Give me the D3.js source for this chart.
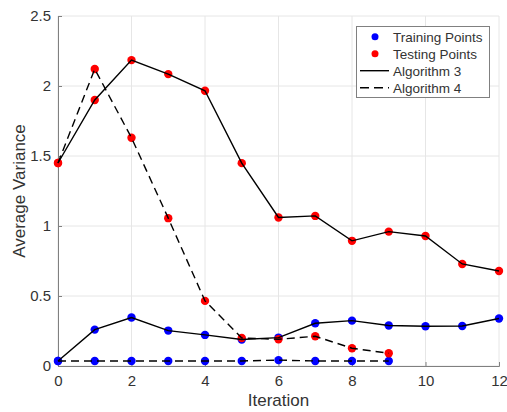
<!DOCTYPE html>
<meta charset="utf-8">
<style>
  body { margin: 0; background: #fff; }
  text { font-family: "Liberation Sans", Arial, sans-serif; fill: #333; }
</style>
<body>
<script src="https://d3js.org/d3.v7.min.js"></script>
<script>
  // values
  var iter3 = [0, 1, 2, 3, 4, 5, 6, 7, 8, 9, 10, 11, 12];
  var iter4 = [0, 1, 2, 3, 4, 5, 6, 7, 8, 9];
  var alg3Test = [1.45, 1.90, 2.185, 2.085, 1.966, 1.449, 1.061, 1.072, 0.894, 0.960, 0.929, 0.729, 0.679];
  var alg3Train = [0.036, 0.26, 0.346, 0.253, 0.222, 0.189, 0.203, 0.305, 0.324, 0.289, 0.284, 0.286, 0.339];
  var alg4Test = [1.45, 2.121, 1.630, 1.056, 0.465, 0.2, 0.191, 0.212, 0.127, 0.091];
  var alg4Train = [0.036, 0.036, 0.036, 0.036, 0.036, 0.036, 0.042, 0.036, 0.036, 0.036];
  var xTicks = [0, 2, 4, 6, 8, 10, 12];
  var yTicks = [0, 0.5, 1, 1.5, 2, 2.5];
  var legendItems = ["Training Points", "Testing Points", "Algorithm 3", "Algorithm 4"];

  var width = 507, height = 412;
  var margin = {left: 58, right: 8, top: 16, bottom: 46};

  var svg = d3.select("body").append("svg")
      .attr("width", width)
      .attr("height", height);

  var x = d3.scaleLinear().domain([0, 12]).range([margin.left, width - margin.right]);
  var y = d3.scaleLinear().domain([0, 2.5]).range([height - margin.bottom, margin.top]);

  // grid
  var grid = svg.append("g");
  grid.selectAll(".gx").data(xTicks).enter().append("line")
      .attr("x1", d => x(d)).attr("x2", d => x(d))
      .attr("y1", y(0)).attr("y2", y(2.5))
      .attr("stroke", "#e6e6e6").attr("stroke-width", 1);
  grid.selectAll(".gy").data(yTicks).enter().append("line")
      .attr("x1", x(0)).attr("x2", x(12))
      .attr("y1", d => y(d)).attr("y2", d => y(d))
      .attr("stroke", "#e6e6e6").attr("stroke-width", 1);

  // axes
  var xAxis = svg.append("g")
      .attr("transform", "translate(0," + y(0) + ")")
      .call(d3.axisBottom(x).tickValues(xTicks).tickSize(-4).tickPadding(9).tickFormat(d3.format("d")));
  var yAxis = svg.append("g")
      .attr("transform", "translate(" + x(0) + ",0)")
      .call(d3.axisLeft(y).tickValues(yTicks).tickSize(-4).tickPadding(7).tickFormat(d => d));
  [xAxis, yAxis].forEach(function(a) {
    a.select(".domain").attr("stroke", "#808080").attr("stroke-width", 1);
    a.selectAll(".tick line").attr("stroke", "#808080").attr("stroke-width", 1);
    a.selectAll(".tick text").attr("font-size", 15).attr("fill", "#333")
      .attr("font-family", "Liberation Sans, Arial, sans-serif");
  });

  svg.append("text")
      .attr("x", x(6)).attr("y", 406)
      .attr("text-anchor", "middle").attr("font-size", 17)
      .text("Iteration");
  svg.append("text")
      .attr("transform", "translate(25," + y(1.25) + ") rotate(-90)")
      .attr("text-anchor", "middle").attr("font-size", 17)
      .text("Average Variance");

  function pts(xs, ys) { return xs.map((d, i) => [d, ys[i]]); }

  var series = [
    {data: pts(iter3, alg3Train), color: "blue", dash: null},
    {data: pts(iter3, alg3Test), color: "red", dash: null},
    {data: pts(iter4, alg4Train), color: "blue", dash: "8,5"},
    {data: pts(iter4, alg4Test), color: "red", dash: "8,5"}
  ];

  // dots first, lines over them
  series.forEach(function(s) {
    svg.append("g").selectAll("circle").data(s.data).enter().append("circle")
        .attr("cx", d => x(d[0])).attr("cy", d => y(d[1]))
        .attr("r", 4.2).attr("fill", s.color);
  });
  var line = d3.line().x(d => x(d[0])).y(d => y(d[1]));
  series.forEach(function(s) {
    svg.append("path").datum(s.data)
        .attr("d", line)
        .attr("fill", "none").attr("stroke", "#000").attr("stroke-width", 1.4)
        .attr("stroke-dasharray", s.dash);
  });

  // legend
  var lg = svg.append("g");
  lg.append("rect").attr("x", 356.5).attr("y", 26.5).attr("width", 133).attr("height", 71)
      .attr("fill", "#fff").attr("stroke", "#808080").attr("stroke-width", 1);
  legendItems.forEach(function(name, i) {
    var yy = 36.7 + i * 17;
    if (i < 2) {
      lg.append("circle").attr("cx", 375).attr("cy", yy).attr("r", 3.5)
          .attr("fill", i === 0 ? "blue" : "red");
    } else {
      lg.append("line").attr("x1", 360).attr("x2", 389).attr("y1", yy).attr("y2", yy)
          .attr("stroke", "#000").attr("stroke-width", 1.4)
          .attr("stroke-dasharray", i === 3 ? "9,5" : null);
    }
    lg.append("text").attr("x", 393).attr("y", yy + 5).attr("font-size", 13.5)
        .attr("fill", "#000").text(name);
  });
</script>
</body>
</html>
